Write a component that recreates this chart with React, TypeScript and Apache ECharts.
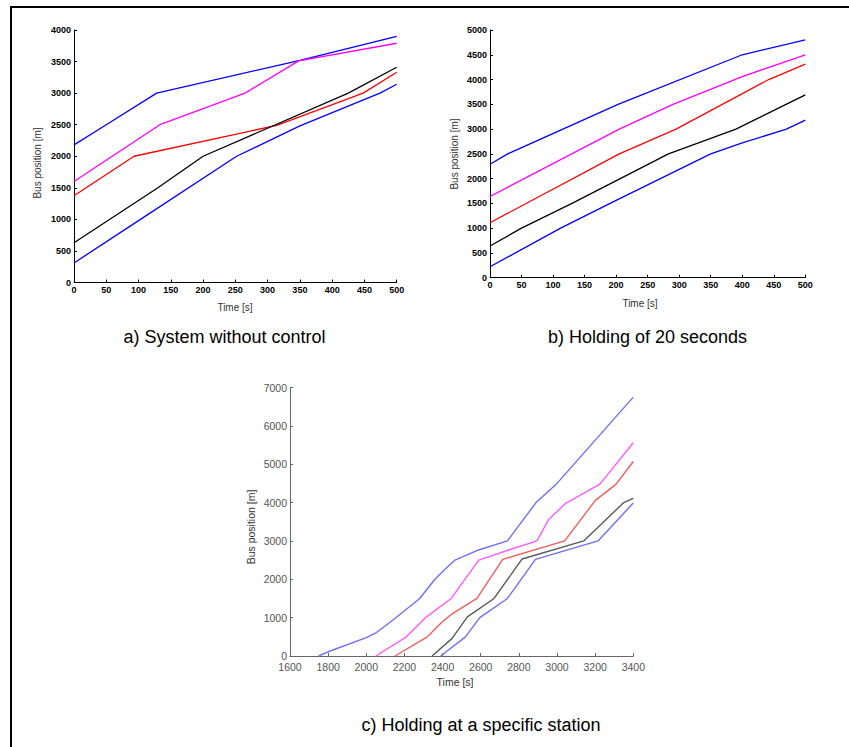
import React, { useEffect, useRef } from "react";
import * as echarts from "echarts";

// ---- Chart a) System without control ----
const aBlueTop: [number, number][] = [[0, 2180], [50, 2500], [128, 3000], [350, 3520], [500, 3900]];
const aMagenta: [number, number][] = [[0, 1600], [133, 2500], [265, 3000], [348, 3510], [500, 3790]];
const aRed: [number, number][] = [[0, 1375], [93, 2000], [314, 2490], [448, 3000], [500, 3330]];
const aBlack: [number, number][] = [[0, 630], [130, 1500], [200, 2000], [425, 3000], [500, 3410]];
const aBlueBottom: [number, number][] = [[0, 310], [100, 980], [252, 2000], [350, 2480], [474, 3000], [500, 3140]];

// ---- Chart b) Holding of 20 seconds ----
const bBlueTop: [number, number][] = [[0, 2290], [28, 2500], [203, 3500], [400, 4500], [500, 4800]];
const bMagenta: [number, number][] = [[0, 1640], [205, 3000], [290, 3500], [400, 4060], [500, 4500]];
const bRed: [number, number][] = [[0, 1110], [205, 2500], [295, 3000], [442, 4000], [500, 4310]];
const bBlack: [number, number][] = [[0, 640], [50, 1000], [130, 1500], [283, 2500], [390, 3000], [500, 3690]];
const bBlueBottom: [number, number][] = [[0, 220], [112, 1000], [200, 1560], [350, 2500], [400, 2720], [470, 3000], [500, 3180]];

// ---- Chart c) Holding at a specific station ----
const cBlueTop: [number, number][] = [[1750, 0], [1800, 110], [2000, 480], [2050, 600], [2140, 940], [2280, 1500], [2360, 2000], [2410, 2250], [2465, 2500], [2580, 2750], [2740, 3000], [2890, 4000], [3000, 4500], [3400, 6750]];
const cMagenta: [number, number][] = [[2050, 0], [2210, 500], [2310, 1000], [2445, 1500], [2590, 2500], [2750, 2770], [2895, 3000], [2955, 3550], [3045, 3980], [3225, 4480], [3400, 5560]];
const cRed: [number, number][] = [[2150, 0], [2320, 500], [2400, 900], [2450, 1100], [2580, 1500], [2715, 2520], [3040, 3000], [3200, 4050], [3310, 4480], [3400, 5070]];
const cBlack: [number, number][] = [[2345, 0], [2450, 460], [2530, 1020], [2670, 1500], [2817, 2530], [3140, 3000], [3350, 4000], [3400, 4110]];
const cBlueBottom: [number, number][] = [[2390, 0], [2520, 500], [2595, 1000], [2740, 1500], [2887, 2520], [3215, 3000], [3400, 3990]];

const titles = ["a) System without control", "b) Holding of 20 seconds", "c) Holding at a specific station"];
const yName = "Bus position [m]";
const xName = "Time [s]";

const FONT = "'Liberation Sans', Arial, sans-serif";

export default function App() {
  const ref = useRef<HTMLDivElement>(null);
  useEffect(() => {
    if (!ref.current) return;
    const chart = echarts.init(ref.current, undefined, { renderer: "svg" });

    const fmt = (v: number) => String(v);
    const abAxisLine = { show: true, lineStyle: { color: "#000", width: 1 } };
    const abLabel = { color: "#000", fontSize: 9, fontWeight: "bold" as const, fontFamily: FONT, formatter: fmt };
    const cAxisLine = { show: true, lineStyle: { color: "#666", width: 1 } };
    const cLabel = { color: "#555", fontSize: 10.5, fontFamily: FONT, formatter: fmt };

    const mkX = (gi: number, min: number, max: number, interval: number, c: boolean) => ({
      type: "value", gridIndex: gi, min, max, interval,
      axisLine: c ? cAxisLine : abAxisLine,
      axisTick: { show: true, inside: true, length: 3, lineStyle: { color: c ? "#666" : "#000" } },
      axisLabel: { ...(c ? cLabel : abLabel), margin: c ? 5 : 3 },
      splitLine: { show: false },
    });
    const mkY = (gi: number, min: number, max: number, interval: number, c: boolean) => ({
      type: "value", gridIndex: gi, min, max, interval,
      axisLine: c ? cAxisLine : abAxisLine,
      axisTick: { show: true, inside: true, length: 3, lineStyle: { color: c ? "#666" : "#000" } },
      axisLabel: { ...(c ? cLabel : abLabel), margin: 3 },
      splitLine: { show: false },
    });

    const line = (data: [number, number][], color: string, idx: number, w = 1.3) => ({
      type: "line", data, xAxisIndex: idx, yAxisIndex: idx, symbol: "none",
      lineStyle: { color, width: w }, silent: true,
    });

    const text = (t: string, x: number, y: number, size: number, color: string, rotate = 0) => ({
      type: "text", x, y, rotation: rotate,
      style: { text: t, fill: color, font: `${size}px ${FONT}`, textAlign: "center", textVerticalAlign: "middle" },
    });

    chart.setOption({
      animation: false,
      backgroundColor: "#fff",
      grid: [
        { left: 74, top: 30, width: 322.7, height: 252.5 },
        { left: 490, top: 30, width: 315.3, height: 247.7 },
        { left: 290, top: 387.5, width: 343.3, height: 268.5 },
      ],
      xAxis: [mkX(0, 0, 500, 50, false), mkX(1, 0, 500, 50, false), mkX(2, 1600, 3400, 200, true)],
      yAxis: [mkY(0, 0, 4000, 500, false), mkY(1, 0, 5000, 500, false), mkY(2, 0, 7000, 1000, true)],
      series: [
        line(aBlueTop, "#0000ff", 0), line(aMagenta, "#ff00ff", 0), line(aRed, "#ff0000", 0),
        line(aBlack, "#000000", 0), line(aBlueBottom, "#0000ff", 0),
        line(bBlueTop, "#0000ff", 1), line(bMagenta, "#ff00ff", 1), line(bRed, "#ff0000", 1),
        line(bBlack, "#000000", 1), line(bBlueBottom, "#0000ff", 1),
        line(cBlueTop, "#6f6ff8", 2, 1.4), line(cMagenta, "#ff5cff", 2, 1.4), line(cRed, "#f25c5c", 2, 1.4),
        line(cBlack, "#5a5a5a", 2, 1.4), line(cBlueBottom, "#6f6ff8", 2, 1.4),
      ],
      graphic: [
        { type: "line", shape: { x1: 10, y1: 7, x2: 849, y2: 7 }, style: { stroke: "#000", lineWidth: 2 } },
        { type: "line", shape: { x1: 11, y1: 6, x2: 11, y2: 747 }, style: { stroke: "#000", lineWidth: 2 } },
        text(yName, 37.5, 163, 10, "#333", Math.PI / 2),
        text(xName, 235, 307, 10, "#333"),
        text(titles[0], 224.5, 337, 18, "#000"),
        text(yName, 454, 154, 10, "#333", Math.PI / 2),
        text(xName, 640, 303.5, 10, "#333"),
        text(titles[1], 647.5, 337, 18, "#000"),
        text(yName, 251, 527, 10.5, "#333", Math.PI / 2),
        text(xName, 455, 682, 10.5, "#333"),
        text(titles[2], 481, 725, 18, "#000"),
      ],
    });
    return () => chart.dispose();
  }, []);
  return <div ref={ref} style={{ position: "fixed", left: 0, top: 0, width: 849, height: 747 }} />;
}
